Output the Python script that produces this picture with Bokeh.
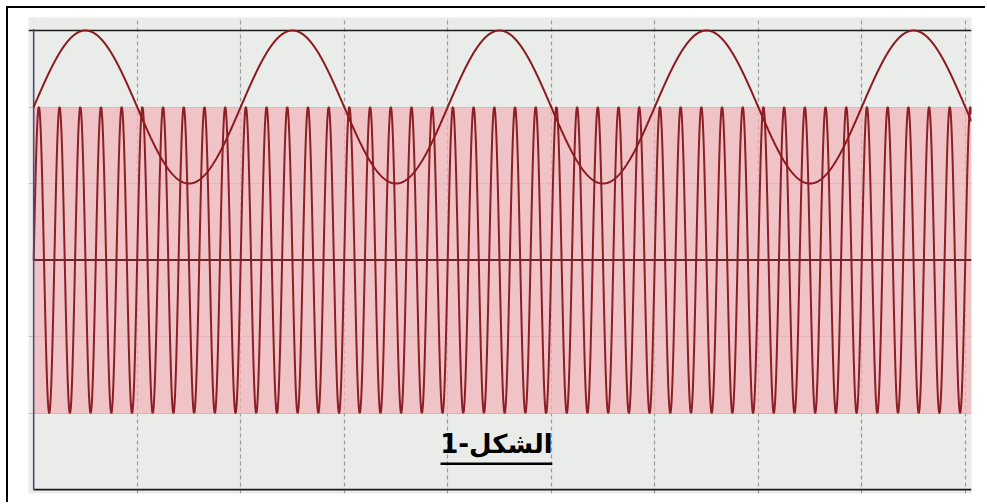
import numpy as np
from bokeh.plotting import figure
from bokeh.models import Range1d, Grid, FixedTicker, ColumnDataSource
from bokeh.core.properties import value
from bokeh.embed import file_html
from bokeh.resources import INLINE

# ---- values (units = screen divisions) ----
x_start = 0.0
x_end = 9.06
screen_top = 3.0
screen_bottom = -3.0

# message (modulating) sine: offset, amplitude, period in divisions
message_offset = 2.0
message_amp = 1.0
message_period = 2.0

# carrier: amplitude and cycles per division
carrier_amp = 2.0
carrier_cycles_per_div = 5.0

vgrid_ticks = [1, 2, 3, 4, 5, 6, 7, 8, 9]
hgrid_ticks = [-2, -1, 1, 2]

label_text = ["الشكل-1"]
label_x = [4.47]
label_y = [-2.40]
underline_y = -2.66
underline_half = 0.54

# ---- curves ----
x = np.linspace(x_start, x_end, 3000)
message = message_offset + message_amp * np.sin(2 * np.pi * x / message_period)
carrier = carrier_amp * np.sin(2 * np.pi * carrier_cycles_per_div * x)

src = ColumnDataSource(dict(x=x, message=message, carrier=carrier))

p = figure(width=979, height=496, output_backend="svg", toolbar_location=None,
           x_axis_location=None, y_axis_location=None,
           x_range=Range1d(-0.05, 9.06), y_range=Range1d(-3.05, 3.17),
           min_border_left=20, min_border_right=16, min_border_top=9, min_border_bottom=11,
           styles={"margin-left": "8px", "margin-top": "8px",
                   "box-shadow": "-2px -2px 0px 0px #000000"})
p.background_fill_color = "#eaecea"
p.border_fill_color = "white"
p.outline_line_color = None

# grids
p.add_layout(Grid(dimension=0, ticker=FixedTicker(ticks=vgrid_ticks), grid_line_color="#9a9a9a",
                  grid_line_dash="4 3", grid_line_width=1.2, bounds=(-3.08, 3.0)))
p.add_layout(Grid(dimension=1, ticker=FixedTicker(ticks=hgrid_ticks), grid_line_color="#c4bcbc",
                  grid_line_width=1, bounds=(0, 9.06)))

# carrier band and carrier
p.varea(x=[x_start, x_end], y1=[-carrier_amp, -carrier_amp], y2=[carrier_amp, carrier_amp],
        fill_color="#f3b3b8", fill_alpha=0.72)
p.line(x="x", y="carrier", source=src, line_color="#8a1f25", line_width=2.0)

# centre line, top/bottom lines, left line
p.line([x_start, x_end], [0, 0], line_color="#6e2426", line_width=2)
p.line([x_start - 0.05, x_end], [screen_top, screen_top], line_color="#1a1a1a", line_width=1.6)
p.line([x_start, x_end], [screen_bottom, screen_bottom], line_color="#1a1a1a", line_width=1.6)
p.line([x_start, x_start], [screen_bottom, screen_top + 0.02], line_color="#54487a", line_width=1.6)

# message sine
p.line(x="x", y="message", source=src, line_color="#8a1a1e", line_width=2)

# caption
p.text(x=label_x, y=label_y, text=label_text, text_font=value("DejaVu Sans"),
       text_font_style="bold", text_font_size="26px", text_align="center",
       text_baseline="middle", text_color="black")
p.segment(x0=[label_x[0] - underline_half], x1=[label_x[0] + underline_half],
          y0=[underline_y], y1=[underline_y], line_color="black", line_width=2.5)

open("out.html", "w").write(file_html(p, INLINE))
